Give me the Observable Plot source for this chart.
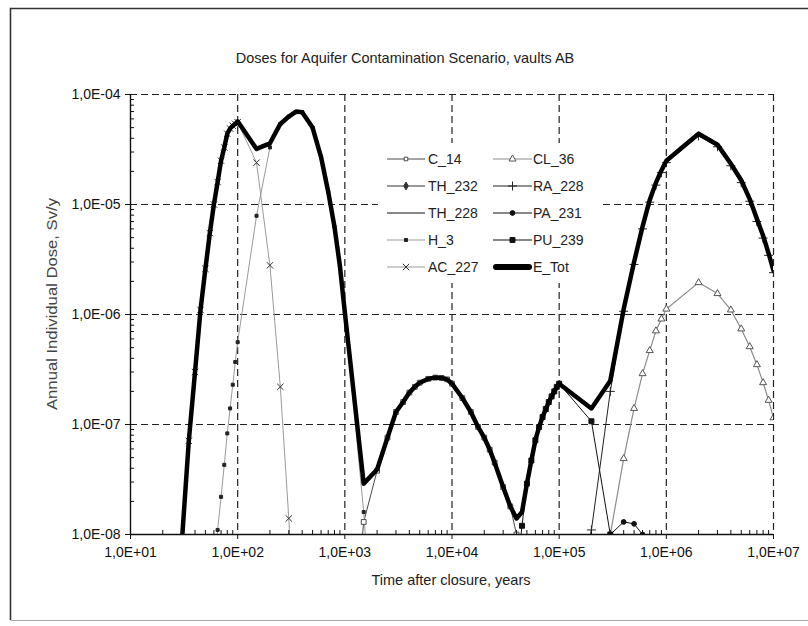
<!DOCTYPE html>
<html>
<head>
<meta charset="utf-8">
<script src="https://cdn.jsdelivr.net/npm/d3@7"></script>
<script src="https://cdn.jsdelivr.net/npm/@observablehq/plot@0.6"></script>
<style>
  body { margin: 0; background: #fff; }
  #chart svg { display: block; }
</style>
</head>
<body>
<div id="chart"></div>
<script>
// Annual individual dose per nuclide, [time after closure (years), dose (Sv/y)]
const C_14 = [[1000,2e-10],[1500,1.3e-8],[2000,3.8e-8],[2500,7.6e-8],[3000,1.3e-7],[3500,1.6e-7],[4000,1.95e-7],[4500,2.2e-7],[5000,2.4e-7],[6000,2.6e-7],[7000,2.67e-7],[8000,2.65e-7],[9000,2.57e-7],[10000,2.35e-7],[12500,1.74e-7],[15000,1.3e-7],[17500,9.5e-8],[20000,7.6e-8],[22500,5.9e-8],[25000,4.5e-8],[30000,2.7e-8],[35000,1.8e-8],[40000,1.0e-8],[45000,4e-9]];
const CL_36 = [[200000,8e-10],[300000,1.0e-8],[400000,4.9e-8],[500000,1.4e-7],[600000,2.9e-7],[700000,4.7e-7],[800000,7.1e-7],[900000,9.1e-7],[1e6,1.12e-6],[2e6,1.95e-6],[3e6,1.55e-6],[4e6,1.1e-6],[5e6,7.4e-7],[6e6,5.1e-7],[7e6,3.5e-7],[8e6,2.4e-7],[9e6,1.66e-7],[1e7,1.15e-7]];
const TH_232 = [];
const RA_228 = [[100000,4e-10],[200000,1.1e-8],[300000,2.0e-7],[400000,1.07e-6],[500000,2.85e-6],[600000,6.0e-6],[700000,1.05e-5],[800000,1.5e-5],[900000,1.95e-5],[1e6,2.4e-5],[2e6,4.2e-5],[3e6,3.35e-5],[4e6,2.25e-5],[5e6,1.58e-5],[6e6,1.07e-5],[7e6,7.0e-6],[8e6,4.95e-6],[9e6,3.45e-6],[1e7,2.4e-6]];
const TH_228 = [];
const PA_231 = [[200000,1e-9],[300000,1.0e-8],[400000,1.3e-8],[500000,1.25e-8],[600000,1.0e-8],[700000,8e-9],[800000,3e-9]];
const H_3 = [[60,3e-9],[65,1.1e-8],[70,2.2e-8],[75,4.3e-8],[80,8.3e-8],[85,1.4e-7],[90,2.3e-7],[95,3.7e-7],[100,5.6e-7],[150,7.9e-6],[200,3.3e-5],[250,5.4e-5],[300,6.3e-5],[350,6.9e-5],[400,6.9e-5],[500,5.0e-5],[600,2.7e-5],[700,1.3e-5],[800,6.3e-6],[900,2.75e-6],[1000,1.05e-6],[1500,1.6e-8],[2000,3e-10]];
const PU_239 = [[35000,1e-9],[40000,4e-9],[45000,1.2e-8],[50000,2.9e-8],[55000,4.7e-8],[60000,7.2e-8],[65000,9.5e-8],[70000,1.17e-7],[75000,1.38e-7],[80000,1.6e-7],[85000,1.8e-7],[90000,2.0e-7],[95000,2.2e-7],[100000,2.35e-7],[200000,1.07e-7],[300000,1.0e-8],[400000,8e-10]];
const AC_227 = [[30,8e-9],[35,7.1e-8],[40,3.0e-7],[45,1.1e-6],[50,2.6e-6],[55,5.5e-6],[60,1.0e-5],[65,1.6e-5],[70,2.5e-5],[75,3.3e-5],[80,4.4e-5],[85,4.9e-5],[90,5.2e-5],[95,5.4e-5],[100,5.6e-5],[150,2.4e-5],[200,2.8e-6],[250,2.2e-7],[300,1.4e-8],[350,6e-10]];
const E_Tot = [[30,8e-9],[35,7.1e-8],[40,3.0e-7],[45,1.1e-6],[50,2.6e-6],[55,5.5e-6],[60,1.0e-5],[65,1.6e-5],[70,2.5e-5],[75,3.3e-5],[80,4.4e-5],[85,4.9e-5],[90,5.2e-5],[95,5.4e-5],[100,5.7e-5],[150,3.2e-5],[200,3.6e-5],[250,5.4e-5],[300,6.3e-5],[350,7.0e-5],[400,6.9e-5],[500,5.0e-5],[600,2.7e-5],[700,1.3e-5],[800,6.3e-6],[900,2.75e-6],[1000,1.05e-6],[1500,2.9e-8],[2000,3.9e-8],[2500,7.6e-8],[3000,1.3e-7],[3500,1.6e-7],[4000,1.95e-7],[4500,2.2e-7],[5000,2.4e-7],[6000,2.6e-7],[7000,2.67e-7],[8000,2.65e-7],[9000,2.57e-7],[10000,2.35e-7],[12500,1.74e-7],[15000,1.3e-7],[17500,9.5e-8],[20000,7.6e-8],[22500,5.9e-8],[25000,4.5e-8],[30000,2.7e-8],[35000,1.8e-8],[40000,1.4e-8],[45000,1.6e-8],[50000,2.9e-8],[55000,4.7e-8],[60000,7.2e-8],[65000,9.5e-8],[70000,1.17e-7],[75000,1.38e-7],[80000,1.6e-7],[85000,1.8e-7],[90000,2.0e-7],[95000,2.2e-7],[100000,2.35e-7],[200000,1.4e-7],[300000,2.5e-7],[400000,1.12e-6],[500000,3.0e-6],[600000,6.3e-6],[700000,1.1e-5],[800000,1.58e-5],[900000,2.04e-5],[1e6,2.5e-5],[2e6,4.4e-5],[3e6,3.5e-5],[4e6,2.35e-5],[5e6,1.66e-5],[6e6,1.12e-5],[7e6,7.4e-6],[8e6,5.2e-6],[9e6,3.6e-6],[1e7,2.5e-6]];

// Axis ticks
const xMajor = [1e1, 1e2, 1e3, 1e4, 1e5, 1e6, 1e7];
const yMajor = [1e-8, 1e-7, 1e-6, 1e-5, 1e-4];
const xMinor = [1, 2, 3, 4, 5, 6].flatMap(k => [2, 3, 4, 5, 6, 7, 8, 9].map(m => m * 10 ** k));
const yMinor = [-8, -7, -6, -5].flatMap(k => [2, 3, 4, 5, 6, 7, 8, 9].map(m => +(m * 10 ** k).toPrecision(3)));

const titleText = "Doses for Aquifer Contamination Scenario, vaults AB";
const xTitle = "Time after closure, years";
const yTitle = "Annual Individual Dose, Sv/y";

// Series styles, in legend order
const series = [
  {name: "C_14",   data: C_14,   line: "#4a4a4a", width: 1,   symbol: "square",   r: 2.7, fill: "white",   mark: "#4a4a4a"},
  {name: "CL_36",  data: CL_36,  line: "#8c8c8c", width: 1.2, symbol: "triangle", r: 2.6, fill: "white",   mark: "#555"},
  {name: "TH_232", data: TH_232, line: "#333",    width: 1,   symbol: "diamond",  r: 2.4, fill: "#333",    mark: "#333"},
  {name: "RA_228", data: RA_228, line: "#222",    width: 1,   symbol: "plus",     r: 3.0, fill: "none",    mark: "#222"},
  {name: "TH_228", data: TH_228, line: "#111",    width: 1,   symbol: null,       r: 0,   fill: "none",    mark: "none"},
  {name: "PA_231", data: PA_231, line: "#111",    width: 1,   symbol: "circle",   r: 2.4, fill: "#111",    mark: "#111"},
  {name: "H_3",    data: H_3,    line: "#9a9a9a", width: 1,   symbol: "square",   r: 1.7, fill: "#222",    mark: "#222"},
  {name: "PU_239", data: PU_239, line: "#111",    width: 1,   symbol: "square",   r: 2.8, fill: "#111",    mark: "#111"},
  {name: "AC_227", data: AC_227, line: "#9a9a9a", width: 1,   symbol: "times",    r: 3.0, fill: "none",    mark: "#333"},
  {name: "E_Tot",  data: E_Tot,  line: "#000",    width: 4.5, symbol: null,       r: 0,   fill: "none",    mark: "none"}
];

const fmtE = v => {
  const e = Math.round(Math.log10(v));
  return "1,0E" + (e < 0 ? "-" : "+") + String(Math.abs(e)).padStart(2, "0");
};

const tx = d => d[0];
const ty = d => d[1];

// Thin nuclide lines and their markers first, total dose drawn on top
const seriesMarks = [];
for (const s of series.filter(s => s.name !== "E_Tot")) {
  seriesMarks.push(Plot.line(s.data, {x: tx, y: ty, stroke: s.line, strokeWidth: s.width, clip: true}));
}
for (const s of series.filter(s => s.symbol)) {
  seriesMarks.push(Plot.dot(s.data, {x: tx, y: ty, symbol: s.symbol, r: s.r, fill: s.fill, stroke: s.mark, strokeWidth: 1, clip: true}));
}
seriesMarks.push(Plot.line(E_Tot, {x: tx, y: ty, stroke: "#000", strokeWidth: 4.5, strokeLinejoin: "round", clip: true}));

const chart = Plot.plot({
  width: 808,
  height: 626,
  marginLeft: 130,
  marginRight: 35,
  marginTop: 94,
  marginBottom: 92,
  x: {type: "log", domain: [1e1, 1e7]},
  y: {type: "log", domain: [1e-8, 1e-4]},
  style: {fontFamily: "'Liberation Sans', Arial, sans-serif", fontSize: "14px", color: "#111", background: "#fff"},
  marks: [
    Plot.ruleX(xMajor.slice(1), {stroke: "#222", strokeWidth: 1.2, strokeDasharray: "7,4"}),
    Plot.ruleY(yMajor.slice(1), {stroke: "#222", strokeWidth: 1.2, strokeDasharray: "7,4"}),
    ...seriesMarks,
    Plot.ruleX([1e1], {stroke: "#111", strokeWidth: 1.4}),
    Plot.ruleY([1e-8], {stroke: "#111", strokeWidth: 1.4}),
    Plot.axisX({ticks: xMajor, tickFormat: fmtE, tickSize: 5, tickPadding: 8, label: null, fontSize: 14}),
    Plot.axisX({ticks: xMinor, tickFormat: () => "", tickSize: 4, dy: -4, label: null}),
    Plot.axisY({ticks: yMajor, tickFormat: fmtE, tickSize: 5, tickPadding: 5, label: null, fontSize: 14}),
    Plot.axisY({ticks: yMinor, tickFormat: () => "", tickSize: 4, dx: 4, label: null})
  ]
});

document.getElementById("chart").appendChild(chart);

// Outer frame, titles and legend
const svg = d3.select(chart);
const font = "'Liberation Sans', Arial, sans-serif";

svg.append("path")
  .attr("d", "M808,8.5H10.5V620")
  .attr("fill", "none").attr("stroke", "#333").attr("stroke-width", 1.6);
svg.append("path")
  .attr("d", "M10.5,620.5H808")
  .attr("fill", "none").attr("stroke", "#aaa").attr("stroke-width", 1.2);

svg.append("text")
  .attr("x", 405).attr("y", 58).attr("dy", "0.35em")
  .attr("text-anchor", "middle").attr("font-family", font).attr("font-size", 14.5).attr("fill", "#222")
  .text(titleText);

svg.append("text")
  .attr("x", 451).attr("y", 580).attr("dy", "0.35em")
  .attr("text-anchor", "middle").attr("font-family", font).attr("font-size", 14.5).attr("fill", "#222")
  .text(xTitle);

svg.append("text")
  .attr("transform", "translate(52,304) rotate(-90)").attr("dy", "0.35em")
  .attr("text-anchor", "middle").attr("font-family", font).attr("font-size", 14).attr("fill", "#444")
  .attr("textLength", 212).attr("lengthAdjust", "spacingAndGlyphs")
  .text(yTitle);

const legend = svg.append("g").attr("text-anchor", "start");
legend.append("rect")
  .attr("x", 378).attr("y", 143).attr("width", 222).attr("height", 140).attr("fill", "#fff");

const byName = Object.fromEntries(series.map(s => [s.name, s]));
const legendCols = [
  {x1: 387, x2: 425, tx: 428, names: ["C_14", "TH_232", "TH_228", "H_3", "AC_227"]},
  {x1: 493, x2: 532, tx: 533, names: ["CL_36", "RA_228", "PA_231", "PU_239", "E_Tot"]}
];
const symbolMap = {square: d3.symbolSquare, triangle: d3.symbolTriangle, diamond: d3.symbolDiamond, plus: d3.symbolPlus, circle: d3.symbolCircle, times: d3.symbolTimes};
legendCols.forEach(col => {
  col.names.forEach((name, i) => {
    const s = byName[name];
    const y = 159 + i * 27;
    const thick = name === "E_Tot";
    legend.append("line")
      .attr("x1", col.x1 + (thick ? 3 : 0)).attr("x2", col.x2 - (thick ? 3 : 0)).attr("y1", y).attr("y2", y)
      .attr("stroke", s.line).attr("stroke-width", thick ? 6 : s.width)
      .attr("stroke-linecap", thick ? "round" : "butt");
    if (s.symbol) {
      const r = name === "C_14" ? 2 : s.r;
      legend.append("path")
        .attr("transform", `translate(${(col.x1 + col.x2) / 2},${y})`)
        .attr("d", d3.symbol(symbolMap[s.symbol], r * r * Math.PI)())
        .attr("fill", s.fill).attr("stroke", s.mark).attr("stroke-width", 1);
    }
    legend.append("text")
      .attr("x", col.tx).attr("y", y).attr("dy", "0.35em").attr("text-anchor", "start")
      .attr("font-family", font).attr("font-size", 14).attr("fill", "#222")
      .text(name);
  });
});
</script>
</body>
</html>
